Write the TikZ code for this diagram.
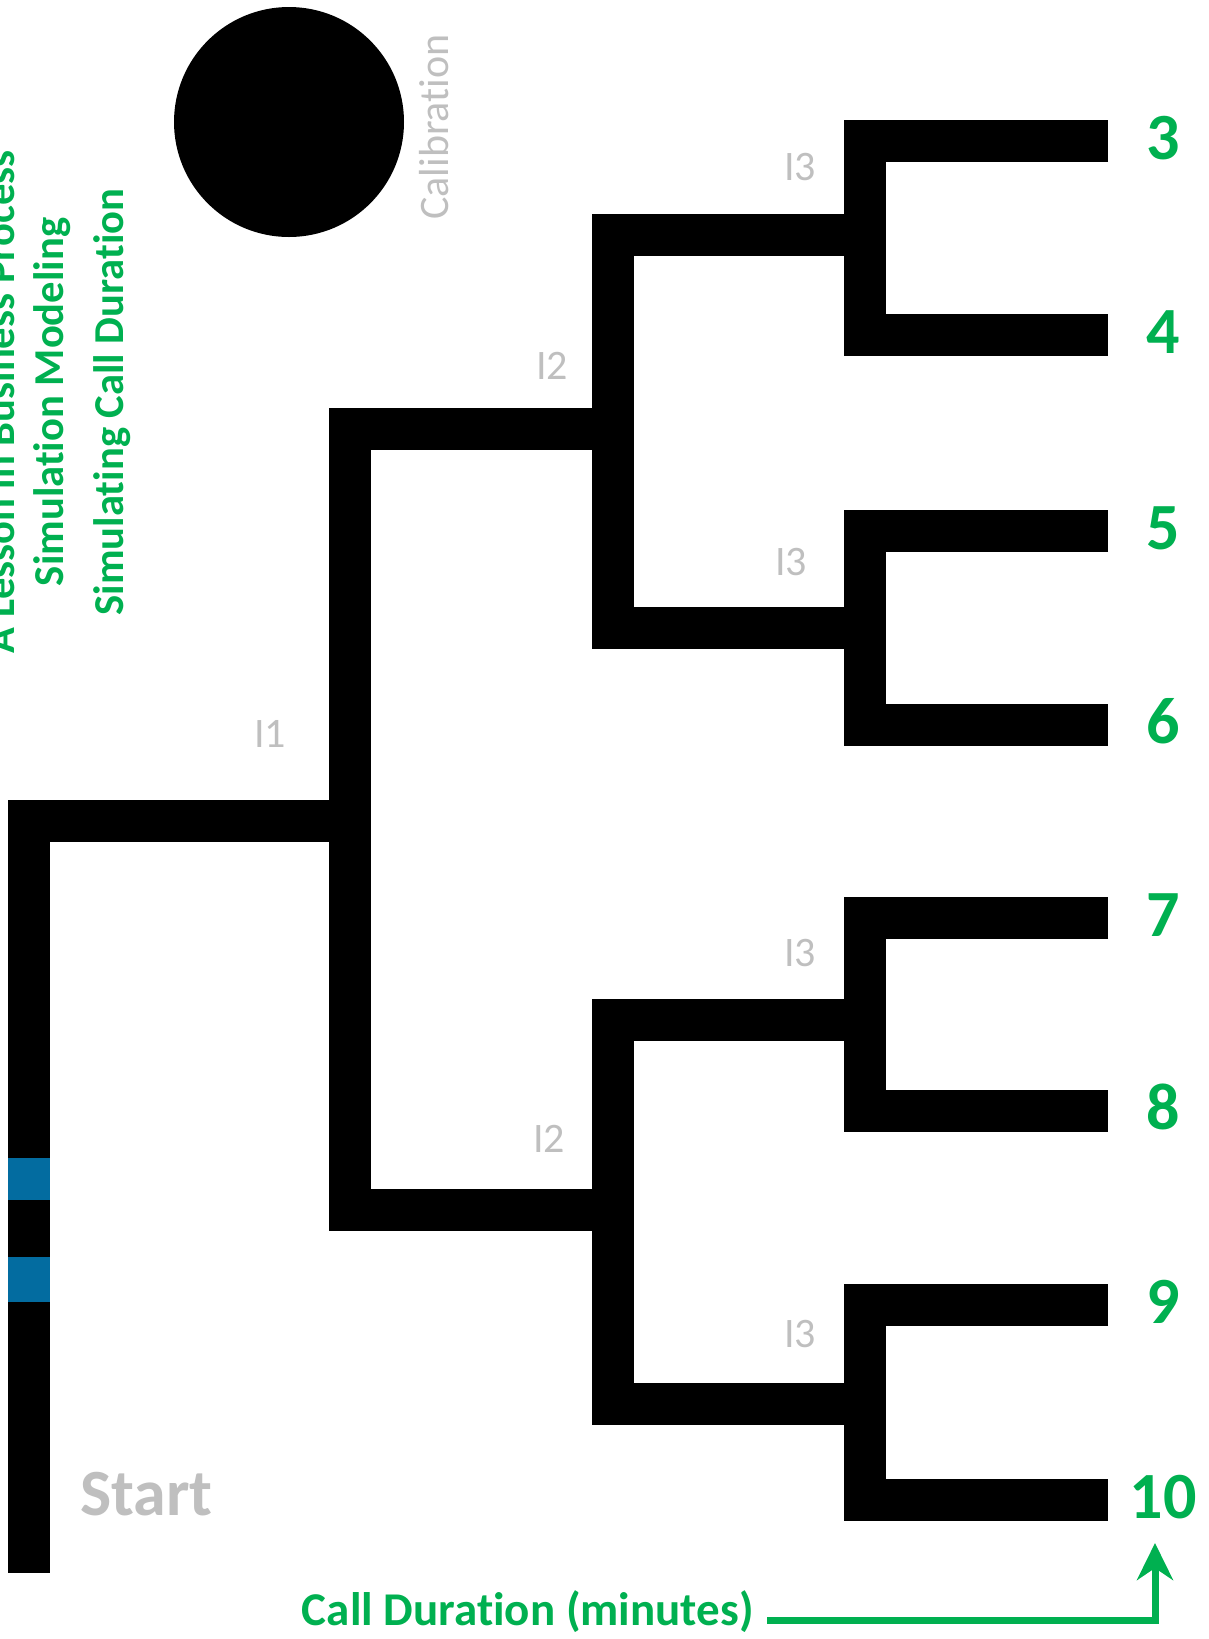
\documentclass[tikz,border=0pt]{standalone}
\usepackage{fontspec}
\setmainfont{Carlito}[Ligatures={NoCommon}]
\usetikzlibrary{positioning, arrows.meta}
\definecolor{callgreen}{RGB}{0,176,80}
\definecolor{hint}{RGB}{191,191,191}
\definecolor{bandblue}{RGB}{3,108,160}
\tikzset{
  branch/.style={draw=black, line width=21pt, line join=miter},
  band/.style={fill=bandblue},
  leafnum/.style={font=\bfseries\fontsize{33}{33}\selectfont, text=callgreen, inner sep=0pt, anchor=base},
  lvl/.style={font=\fontsize{21}{21}\selectfont, text=hint, inner sep=0pt},
  heading/.style={font=\bfseries\fontsize{21.3}{21.3}\selectfont, text=callgreen, rotate=90, anchor=base, inner sep=0pt},
  pointer/.style={draw=callgreen, line width=3.5pt, -{Stealth[length=18.5pt,width=18pt,inset=6pt]}},
}

\begin{document}
\begin{tikzpicture}[x=0.5pt, y=-0.5pt]
\useasboundingbox (0,0) rectangle (1209,1639);

% titles
\node[heading] (lesson) at (14,402) {A Lesson in Business Process};
\node[heading] (model) at (63,402) {Simulation Modeling};
\node[heading] (topic) at (123,402) {Simulating Call Duration};

% calibration dot
\fill (289,122) circle[radius=115];
\node[lvl, rotate=90, anchor=base] (calib) at (448,127) {Calibration};

% leaves
\foreach \lab/\y in {3/141,4/335,5/531,6/725,7/918,8/1111,9/1305,10/1500} {
  \coordinate (e\lab) at (1108,\y);
  \node[leafnum] (n\lab) at (1163,\y+18) {\lab};
}

% junctions
\coordinate (j3a) at (865,235);
\coordinate (j3b) at (865,628);
\coordinate (j3c) at (865,1020);
\coordinate (j3d) at (865,1404);
\coordinate (j2a) at (613,429);
\coordinate (j2b) at (613,1210);
\coordinate (j1) at (350,821);
\coordinate (s0) at (29,1573);

\draw[branch] (e3) -| (j3a) |- (e4);
\draw[branch] (e5) -| (j3b) |- (e6);
\draw[branch] (e7) -| (j3c) |- (e8);
\draw[branch] (e9) -| (j3d) |- (e10);
\draw[branch] (j3a) -| (j2a) |- (j3b);
\draw[branch] (j3c) -| (j2b) |- (j3d);
\draw[branch] (j2a) -| (j1) |- (j2b);
\draw[branch] (j1) -| (s0);

% bands on the start line
\fill[band] (8,1158) rectangle (50,1200);
\fill[band] (8,1257) rectangle (50,1302);

% level labels
\node[lvl] (l1) at (270,734) {I1};
\node[lvl] (l2a) at (552,366) {I2};
\node[lvl] (l2b) at (549,1139) {I2};
\node[lvl] (l3a) at (800,167) {I3};
\node[lvl] (l3b) at (791,562) {I3};
\node[lvl] (l3c) at (800,953) {I3};
\node[lvl] (l3d) at (800,1334) {I3};

\node[font=\bfseries\fontsize{33}{33}\selectfont, text=hint, anchor=base west, inner sep=0pt] (start) at (80,1515) {Start};

% axis note
\node[font=\bfseries\fontsize{23.5}{23.5}\selectfont, text=callgreen, anchor=base east, inner sep=0pt] (calldur) at (754,1625) {Call Duration (minutes)};
\coordinate (tail) at (767,1620);
\coordinate (tip) at (1155,1543);
\draw[pointer] (tail) -| (tip);
\end{tikzpicture}
\end{document}
